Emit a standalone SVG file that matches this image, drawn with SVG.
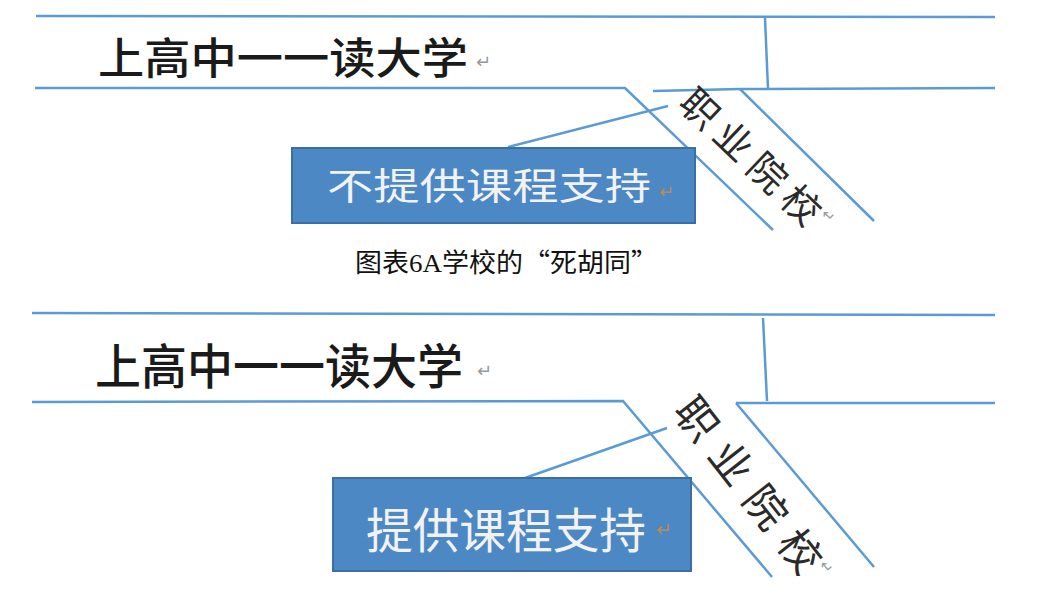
<svg xmlns="http://www.w3.org/2000/svg" width="1043" height="607" viewBox="0 0 1043 607">
<style>
.ln{fill:none;stroke:#5B9BD5;stroke-width:2.5;stroke-linejoin:miter}
.cjk{font-family:"Noto Sans CJK SC","Noto Sans",sans-serif}
.title{fill:#1a1a1a;font-weight:500}
.box{fill:#4C88C4;stroke:#3B6FA3;stroke-width:2}
.boxtxt{fill:#F2F2F2}
.diag{fill:#2a2a2a}
.ret{font-family:"DejaVu Sans",sans-serif;fill:#9a9a9a}
.retbox{font-family:"DejaVu Sans",sans-serif;fill:#B98A5A}
.cap{font-family:"Noto Sans CJK SC",serif;fill:#111}
.capl{font-family:"Liberation Serif",serif}
</style>
<rect width="1043" height="607" fill="#ffffff"/>
<g id="connectors">
  <path class="ln" d="M36,16 L995,17"/>
  <path class="ln" d="M35,88 L625,88 L773,230"/>
  <path class="ln" d="M653,91 L740,89"/>
  <path class="ln" d="M740,89 L995,88"/>
  <path class="ln" d="M740,89 L874,221"/>
  <path class="ln" d="M765,18 L768,89"/>
  <path class="ln" d="M508,147 L668,106"/>
  <path class="ln" d="M32,313 L995,315"/>
  <path class="ln" d="M32,402 L623,401 L772,577"/>
  <path class="ln" d="M736,403 L995,403"/>
  <path class="ln" d="M736,403 L874,567"/>
  <path class="ln" d="M763,318 L767,401"/>
  <path class="ln" d="M525,478 L667,428"/>
</g>
<g id="title-top">
  <text class="cjk title" x="98" y="74" font-size="43" textLength="370" lengthAdjust="spacingAndGlyphs">上高中一一读大学</text>
  <text class="ret" x="476" y="68" font-size="18">↵</text>
</g>
<g id="box-top">
  <rect class="box" x="292" y="148" width="403" height="75"/>
  <text class="cjk boxtxt" x="327" y="200" font-size="37" textLength="324" lengthAdjust="spacingAndGlyphs">不提供课程支持</text>
  <text class="retbox" x="659" y="198" font-size="18">↵</text>
</g>
<g id="vocational-top">
  <text class="cjk diag" transform="translate(752.5,155) rotate(43.5)" font-size="38" text-anchor="middle" dominant-baseline="central" textLength="178" lengthAdjust="spacing">职业院校</text>
  <text class="ret" transform="translate(828,216) rotate(43.5)" font-size="15" text-anchor="middle" dominant-baseline="central">↵</text>
</g>
<g id="caption">
  <text class="cap" x="355" y="272" font-size="26" textLength="303" lengthAdjust="spacingAndGlyphs">图表<tspan class="capl">6A</tspan>学校的“死胡同”</text>
</g>
<g id="title-bottom">
  <text class="cjk title" x="95" y="384" font-size="48" textLength="368" lengthAdjust="spacingAndGlyphs">上高中一一读大学</text>
  <text class="ret" x="477" y="377" font-size="18">↵</text>
</g>
<g id="box-bottom">
  <rect class="box" x="333" y="478" width="358" height="93"/>
  <text class="cjk boxtxt" x="366" y="548" font-size="48" textLength="280" lengthAdjust="spacingAndGlyphs">提供课程支持</text>
  <text class="retbox" x="656" y="536" font-size="19">↵</text>
</g>
<g id="vocational-bottom">
  <text class="cjk diag" transform="translate(751,483) rotate(51.9)" font-size="42" text-anchor="middle" dominant-baseline="central" textLength="210" lengthAdjust="spacing">职业院校</text>
  <text class="ret" transform="translate(826,567) rotate(51.9)" font-size="15" text-anchor="middle" dominant-baseline="central">↵</text>
</g>
</svg>
